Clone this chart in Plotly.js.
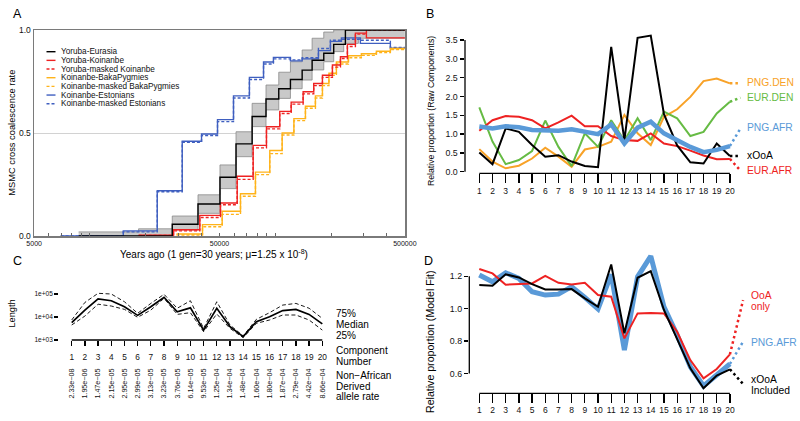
<!DOCTYPE html>
<html>
<head>
<meta charset="utf-8">
<script src="https://cdn.plot.ly/plotly-3.0.1.min.js"></script>
<style>html,body{margin:0;padding:0;background:#fff;}#chart{width:800px;height:421px;}</style>
</head>
<body>
<div id="chart"></div>
<script>
// ---------------- Panel A : MSMC cross coalescence (step functions, years ago) ----------------
const aTickVals = [5000, 50000, 500000];
const aTickText = ['5000', '50000', '500000'];
const aNames = ['Yoruba-Eurasia', 'Yoruba-Koinanbe', 'Yoruba-masked Koinanbe', 'Koinanbe-BakaPygmies',
                'Koinanbe-masked BakaPygmies', 'Koinanbe-Estonians', 'Koinanbe-masked Estonians'];

const bandT    = [8690, 18300, 27800, 38280, 50300, 61400, 75000, 89100, 104400, 120700, 139600, 158000, 182600, 206600, 234000, 280700, 500000];
const bandLow  = [0, 0, 0.03, 0.11, 0.23, 0.385, 0.531, 0.612, 0.668, 0.715, 0.757, 0.806, 0.846, 0.895, 0.935, 0.96, 0.96];
const bandHigh = [0.02, 0.035, 0.097, 0.20, 0.345, 0.506, 0.644, 0.733, 0.795, 0.846, 0.903, 0.96, 0.99, 1.0, 1.0, 1.0, 1.0];

const yorEurT = [8690, 27800, 38280, 50300, 61400, 75000, 89100, 104400, 120700, 139600, 158000, 182600, 206600, 238900, 500000];
const yorEurV = [0, 0.057, 0.155, 0.285, 0.447, 0.58, 0.665, 0.715, 0.76, 0.805, 0.853, 0.887, 0.93, 1.0, 1.0];

const yorKoiT  = [18300, 28250, 39150, 50620, 62300, 75960, 89600, 105700, 121800, 141300, 161200, 179600, 203300, 224600, 244900, 270500, 310100, 500000];
const yorKoiV  = [0.004, 0.03, 0.10, 0.16, 0.29, 0.44, 0.53, 0.605, 0.65, 0.70, 0.74, 0.78, 0.83, 0.87, 0.93, 0.985, 0.962, 0.962];
const yorKoiMV = [0.003, 0.025, 0.09, 0.152, 0.275, 0.428, 0.52, 0.595, 0.64, 0.69, 0.73, 0.77, 0.82, 0.862, 0.92, 0.98, 1.0, 1.0];

const koiBakT  = [29300, 40480, 51700, 64900, 78150, 93360, 108900, 126000, 145400, 164600, 179600, 194700, 213600, 248000, 291300, 351100, 417600, 500000];
const koiBakV  = [0.01, 0.055, 0.12, 0.205, 0.31, 0.415, 0.50, 0.57, 0.63, 0.68, 0.74, 0.79, 0.845, 0.875, 0.885, 0.897, 0.91, 0.91];
const koiBakMV = [0.005, 0.045, 0.105, 0.193, 0.298, 0.40, 0.49, 0.56, 0.62, 0.67, 0.73, 0.78, 0.835, 0.865, 0.877, 0.89, 0.905, 0.905];

const koiEstT  = [6950, 15130, 23070, 31470, 40000, 48780, 59500, 72500, 86400, 97700, 120700, 139600, 170900, 198300, 227400, 287700, 417600, 500000];
const koiEstV  = [0, 0.025, 0.22, 0.46, 0.495, 0.565, 0.68, 0.77, 0.845, 0.867, 0.85, 0.86, 0.90, 0.945, 0.962, 0.935, 0.912, 0.912];
const koiEstMV = [0, 0.02, 0.215, 0.455, 0.488, 0.555, 0.67, 0.76, 0.835, 0.86, 0.855, 0.865, 0.91, 0.95, 0.955, 0.95, 0.915, 0.915];

// ---------------- Panel B : Relative proportion (raw components) ----------------
const comps = [1, 2, 3, 4, 5, 6, 7, 8, 9, 10, 11, 12, 13, 14, 15, 16, 17, 18, 19, 20];
const bNames = ['PNG.DEN', 'EUR.DEN', 'EUR.AFR', 'xOoA', 'PNG.AFR'];
const bPngDen = [0.60, 0.27, 0.09, 0.16, 0.35, 0.64, 0.40, 0.13, 0.59, 0.66, 0.80, 1.51, 1.02, 0.71, 1.46, 1.66, 1.99, 2.41, 2.48, 2.35];
const bEurDen = [1.71, 0.80, 0.20, 0.31, 0.55, 1.36, 0.66, 0.15, 1.02, 0.66, 1.37, 0.83, 1.42, 0.84, 1.60, 1.42, 0.95, 1.06, 1.55, 1.86];
const bEurAfr = [1.09, 1.37, 1.48, 1.46, 1.37, 1.15, 1.31, 1.49, 1.21, 1.21, 0.95, 0.84, 0.82, 1.02, 0.75, 0.68, 0.56, 0.43, 0.33, 0.34];
const bXooa   = [0.51, 0.20, 1.15, 1.06, 0.71, 0.40, 0.44, 0.27, 0.15, 0.12, 3.32, 0.84, 3.56, 3.62, 1.53, 0.70, 0.25, 0.22, 0.75, 0.42];
const bPngAfr = [1.20, 1.15, 1.21, 1.18, 1.11, 1.09, 1.09, 1.13, 1.08, 1.00, 1.26, 0.75, 1.17, 1.33, 1.02, 0.84, 0.66, 0.52, 0.58, 0.68];
const bExtEnd = [2.35, 1.97, 0.03, 0.42, 1.15];   // dotted continuation end values, same order as bNames
const bYTicks = [0, 0.5, 1, 1.5, 2, 2.5, 3, 3.5];

// ---------------- Panel C : segment length quantiles ----------------
const cQ75    = [7400, 43000, 107000, 100000, 46000, 14500, 39000, 97000, 24000, 51000, 3200, 46000, 4500, 1500, 7900, 15400, 33000, 39000, 24000, 8700];
const cMedian = [5700, 20000, 61000, 51000, 28000, 11800, 28000, 72000, 17000, 25000, 2700, 24000, 3800, 1400, 6300, 10300, 19000, 21500, 13000, 5000];
const cQ25    = [4500, 11000, 36000, 30000, 21500, 9700, 20000, 65000, 13000, 15400, 2300, 13500, 3200, 1260, 5300, 7400, 12200, 12200, 7400, 2700];
const cRates  = ['2.33e\u221208', '1.95e\u221206', '1.47e\u221205', '2.15e\u221205', '2.95e\u221205', '2.99e\u221205', '3.13e\u221205',
                 '3.23e\u221205', '3.76e\u221205', '6.14e\u221205', '9.53e\u221205', '1.25e\u221204', '1.34e\u221204', '1.48e\u221204',
                 '1.60e\u221204', '1.80e\u221204', '1.87e\u221204', '2.79e\u221204', '4.42e\u221204', '8.66e\u221204'];
const cYTickVals = [1000, 10000, 100000];
const cYTickText = ['1e+03', '1e+04', '1e+05'];
const cSideLabels = ['75%', 'Median', '25%', 'Component', 'Number', 'Non\u2212African', 'Derived', 'allele rate'];

// ---------------- Panel D : Relative proportion (model fit) ----------------
const dOoaOnly = [1.245, 1.218, 1.148, 1.154, 1.156, 1.203, 1.160, 1.150, 1.160, 1.084, 1.074, 0.817, 0.971, 0.973, 0.971, 0.858, 0.683, 0.570, 0.628, 0.718];
const dPngAfr  = [1.208, 1.166, 1.222, 1.187, 1.105, 1.084, 1.090, 1.136, 1.070, 0.998, 1.212, 0.745, 1.197, 1.325, 1.012, 0.838, 0.642, 0.523, 0.591, 0.659];
const dXooaInc = [1.146, 1.142, 1.212, 1.193, 1.152, 1.119, 1.119, 1.121, 1.064, 1.012, 1.273, 0.848, 1.191, 1.232, 0.992, 0.807, 0.632, 0.509, 0.587, 0.626];
const dExtEnd  = [1.053, 0.797, 0.535];  // OoA only, PNG.AFR, xOoA Included
const dYTicks  = [0.6, 0.8, 1.0, 1.2];

// ---------------- styling ----------------
const FONT = 'Liberation Sans, Arial, Helvetica, sans-serif';
const C_BLACK = '#000000', C_RED = '#ee2222', C_GOLD = '#ffb31a', C_ABLUE = '#3f5fc0';
const C_ORANGE = '#f8a228', C_GREEN = '#66bb44', C_LBLUE = '#5a9ad8';
const DASH = '3px,2px';
const W = 800, H = 421;
const px = v => v / W, py = v => 1 - v / H;

const traces = [];
function lastOf(a) { return a[a.length - 1]; }

// Panel A
traces.push({x: bandT, y: bandLow, xaxis: 'x', yaxis: 'y', mode: 'lines', line: {shape: 'hv', color: '#8a8a8a', width: 0.8}, hoverinfo: 'skip'});
traces.push({x: bandT, y: bandHigh, xaxis: 'x', yaxis: 'y', mode: 'lines', fill: 'tonexty', fillcolor: '#c9c9c9', line: {shape: 'hv', color: '#8a8a8a', width: 0.8}, hoverinfo: 'skip'});
const aSeries = [
  [koiEstT, koiEstV, C_ABLUE, 'solid'], [koiEstT, koiEstMV, C_ABLUE, DASH],
  [koiBakT, koiBakV, C_GOLD, 'solid'], [koiBakT, koiBakMV, C_GOLD, DASH],
  [yorKoiT, yorKoiV, C_RED, 'solid'], [yorKoiT, yorKoiMV, C_RED, DASH],
  [yorEurT, yorEurV, C_BLACK, 'solid']
];
aSeries.forEach(s => traces.push({x: s[0], y: s[1], xaxis: 'x', yaxis: 'y', mode: 'lines',
  line: {shape: 'hv', color: s[2], width: 1.4, dash: s[3]}, hoverinfo: 'skip'}));

// Panel B
const bSeries = [bPngDen, bEurDen, bEurAfr, bXooa, bPngAfr];
const bColors = [C_ORANGE, C_GREEN, C_RED, C_BLACK, C_LBLUE];
const bWidths = [2, 2, 2, 2, 4.5];
const extX_B = [20, 20.8];
bSeries.forEach((s, i) => {
  traces.push({x: comps, y: s, xaxis: 'x2', yaxis: 'y2', mode: 'lines', line: {color: bColors[i], width: bWidths[i]}, hoverinfo: 'skip'});
  traces.push({x: extX_B, y: [lastOf(s), bExtEnd[i]], xaxis: 'x2', yaxis: 'y2', mode: 'lines', line: {color: bColors[i], width: 2.5, dash: '2.5px,3px'}, hoverinfo: 'skip'});
});

// Panel C
traces.push({x: comps, y: cQ75, xaxis: 'x3', yaxis: 'y3', mode: 'lines', line: {color: '#000', width: 0.9, dash: '4px,2.5px'}, hoverinfo: 'skip'});
traces.push({x: comps, y: cQ25, xaxis: 'x3', yaxis: 'y3', mode: 'lines', line: {color: '#000', width: 0.9, dash: '4px,2.5px'}, hoverinfo: 'skip'});
traces.push({x: comps, y: cMedian, xaxis: 'x3', yaxis: 'y3', mode: 'lines', line: {color: '#000', width: 1.7}, hoverinfo: 'skip'});
traces.push({x: comps, y: cMedian, xaxis: 'x4', yaxis: 'y3', mode: 'lines', opacity: 0, line: {width: 0.1}, hoverinfo: 'skip'});

// Panel D
const dSeries = [dPngAfr, dOoaOnly, dXooaInc];
const dColors = [C_LBLUE, C_RED, C_BLACK];
const dWidths = [5, 2, 2];
const dExt = [dExtEnd[1], dExtEnd[0], dExtEnd[2]];
const extX_D = [20, 21.0];
dSeries.forEach((s, i) => {
  traces.push({x: comps, y: s, xaxis: 'x5', yaxis: 'y5', mode: 'lines', line: {color: dColors[i], width: dWidths[i]}, hoverinfo: 'skip'});
  traces.push({x: extX_D, y: [lastOf(s), dExt[i]], xaxis: 'x5', yaxis: 'y5', mode: 'lines', line: {color: dColors[i], width: 2.5, dash: '2.5px,3px'}, hoverinfo: 'skip'});
});

// ---------------- annotations & shapes ----------------
const ann = [];
const shapes = [];
function txt(text, x, y, size, opts) {
  ann.push(Object.assign({text: text, xref: 'paper', yref: 'paper', x: px(x), y: py(y), showarrow: false,
    font: {family: FONT, size: size, color: '#000'}, xanchor: 'left', yanchor: 'middle'}, opts || {}));
}
// panel letters
txt('A', 11, 14, 12.5);
txt('B', 424, 14, 12.5);
txt('C', 11, 261, 12.5);
txt('D', 422, 261, 12.5);
// axis titles
txt('MSMC cross coalescence rate', 11.7, 133, 9.3, {textangle: -90, xanchor: 'center'});
txt('Years ago (1 gen=30 years; \u03bc=1.25 x 10<sup>-8</sup>)', 214, 254, 10, {xanchor: 'center'});
txt('Relative proportion (Raw Components)', 431, 111, 8.7, {textangle: -90, xanchor: 'center'});
txt('Length', 11.5, 314, 9.2, {textangle: -90, xanchor: 'center'});
txt('Relative proportion (Model Fit)', 430, 342, 10.6, {textangle: -90, xanchor: 'center'});

// Panel A legend
const aLegColors = [C_BLACK, C_RED, C_RED, C_GOLD, C_GOLD, C_ABLUE, C_ABLUE];
const aLegDash = ['solid', 'solid', DASH, 'solid', DASH, 'solid', DASH];
aNames.forEach((n, i) => {
  const yy = 51.7 + i * 8.67;
  shapes.push({type: 'line', xref: 'paper', yref: 'paper', x0: px(46.5), x1: px(55.5), y0: py(yy), y1: py(yy),
    line: {color: aLegColors[i], width: 1.4, dash: aLegDash[i]}});
  txt(n, 59, yy, 8.2, {font: {family: FONT, size: 8.2, color: '#111'}});
});

// Panel B labels
const bLabY = [82.7, 97.7, 170.7, 155.7, 127.3];
bNames.forEach((n, i) => txt(n, 745, bLabY[i], 10.3, {font: {family: FONT, size: 10.3, color: bColors[i]}}));

// Panel C side labels
const cSideY = [313.3, 324.5, 335.5, 350.3, 361, 375.2, 386, 396.8];
cSideLabels.forEach((n, i) => txt(n, 334, cSideY[i], 10));

// Panel D labels
txt('OoA', 749, 295, 10.3, {font: {family: FONT, size: 10.3, color: C_RED}});
txt('only', 749, 306.5, 10.3, {font: {family: FONT, size: 10.3, color: C_RED}});
txt('PNG.AFR', 749, 342.7, 10.3, {font: {family: FONT, size: 10.3, color: C_LBLUE}});
txt('xOoA', 749, 379.3, 10.3);
txt('Included', 749, 390.3, 10.3);

// R-style axis lines (span first..last tick)
const AX = {color: '#000', width: 1.3};
shapes.push({type: 'line', xref: 'x2', yref: 'y2 domain', x0: comps[0], x1: lastOf(comps), y0: 0, y1: 0, line: AX});
shapes.push({type: 'line', xref: 'x2 domain', yref: 'y2', x0: 0, x1: 0, y0: bYTicks[0], y1: lastOf(bYTicks), line: AX});
shapes.push({type: 'line', xref: 'x3', yref: 'y3 domain', x0: comps[0], x1: lastOf(comps), y0: 0, y1: 0, line: AX});
shapes.push({type: 'line', xref: 'x3 domain', yref: 'y3', x0: 0, x1: 0, y0: Math.log10(cYTickVals[0]), y1: Math.log10(lastOf(cYTickVals)), line: AX});
shapes.push({type: 'line', xref: 'x5', yref: 'y5 domain', x0: comps[0], x1: lastOf(comps), y0: 0, y1: 0, line: AX});
shapes.push({type: 'line', xref: 'x5 domain', yref: 'y5', x0: 0, x1: 0, y0: dYTicks[0], y1: lastOf(dYTicks), line: AX});

// minor ticks on the log axis of panel A (1..9 x decade)
const minorVals = [];
[1000, 10000, 100000].forEach(d => { for (let k = 1; k <= 9; k++) { const v = d * k; if (v > 5000 && v < 500000) minorVals.push(v); } });

const tickFont = s => ({family: FONT, size: s, color: '#111'});
const layout = {
  width: W, height: H, margin: {l: 0, r: 0, t: 0, b: 0}, showlegend: false,
  paper_bgcolor: '#ffffff', plot_bgcolor: 'rgba(0,0,0,0)', font: {family: FONT, color: '#000'},
  xaxis: {domain: [px(34), px(405)], type: 'log', range: [Math.log10(5000) - 0.0008, Math.log10(500000) + 0.0008],
    tickmode: 'array', tickvals: aTickVals, ticktext: aTickText, tickfont: tickFont(7), ticks: '',
    showline: true, mirror: true, linecolor: '#7a7a7a', linewidth: 1.5, showgrid: false, zeroline: false, anchor: 'y',
    minor: {tickmode: 'array', tickvals: minorVals, ticks: 'inside', ticklen: 3, tickcolor: '#666', showgrid: false}},
  yaxis: {domain: [py(236), py(30)], range: [0, 1], tickmode: 'array', tickvals: [0, 0.5, 1], ticktext: ['0.0', '0.5', '1.0'],
    tickfont: tickFont(8.5), ticks: '', showline: true, mirror: true, linecolor: '#7a7a7a', linewidth: 1.5,
    showgrid: true, gridcolor: '#d2d2d2', gridwidth: 1, zeroline: false, anchor: 'x'},

  xaxis2: {domain: [px(465), px(747.06)], range: [-0.084, 21.3], tickmode: 'array', tickvals: comps,
    ticks: 'outside', ticklen: 9, tickwidth: 1.3, tickcolor: '#000', tickfont: tickFont(8.5),
    showline: false, showgrid: false, zeroline: false, anchor: 'y2'},
  yaxis2: {domain: [py(173.3), py(30.3)], range: [-0.0426, 3.761], tickmode: 'array', tickvals: bYTicks, tickformat: '.1f',
    ticks: 'outside', ticklen: 4.5, tickwidth: 1.3, tickcolor: '#000', tickfont: tickFont(8.8),
    showline: false, showgrid: false, zeroline: false, anchor: 'x2'},

  xaxis3: {domain: [px(59.3), px(334.7)], range: [0.06, 20.94], tickmode: 'array', tickvals: comps,
    ticks: 'outside', ticklen: 5, tickwidth: 1.3, tickcolor: '#000', tickfont: tickFont(8.3), ticklabelstandoff: 4,
    showline: false, showgrid: false, zeroline: false, anchor: 'y3'},
  yaxis3: {domain: [py(340), py(291.7)], type: 'log', range: [3, 5.1], tickmode: 'array', tickvals: cYTickVals, ticktext: cYTickText,
    ticks: 'outside', ticklen: 4, tickwidth: 1.3, tickcolor: '#000', tickfont: tickFont(6.6),
    showline: false, showgrid: false, zeroline: false, anchor: 'x3'},
  xaxis4: {overlaying: 'x3', anchor: 'free', position: py(366), side: 'bottom', range: [0.06, 20.94], tickmode: 'array',
    tickvals: comps, ticktext: cRates, tickangle: -90, tickfont: tickFont(7.2), ticks: '',
    showline: false, showgrid: false, zeroline: false},

  xaxis5: {domain: [px(469.3), px(747.06)], range: [0.242, 21.3], tickmode: 'array', tickvals: comps,
    ticks: 'outside', ticklen: 8.4, tickwidth: 1.3, tickcolor: '#000', tickfont: tickFont(8.5),
    showline: false, showgrid: false, zeroline: false, anchor: 'y5'},
  yaxis5: {domain: [py(393.3), py(250.4)], range: [0.4778, 1.3599], tickmode: 'array', tickvals: dYTicks, tickformat: '.1f',
    ticks: 'outside', ticklen: 4.5, tickwidth: 1.3, tickcolor: '#000', tickfont: tickFont(8.8),
    showline: false, showgrid: false, zeroline: false, anchor: 'x5'},

  annotations: ann,
  shapes: shapes
};

Plotly.newPlot('chart', traces, layout, {staticPlot: true, displayModeBar: false});
</script>
</body>
</html>
